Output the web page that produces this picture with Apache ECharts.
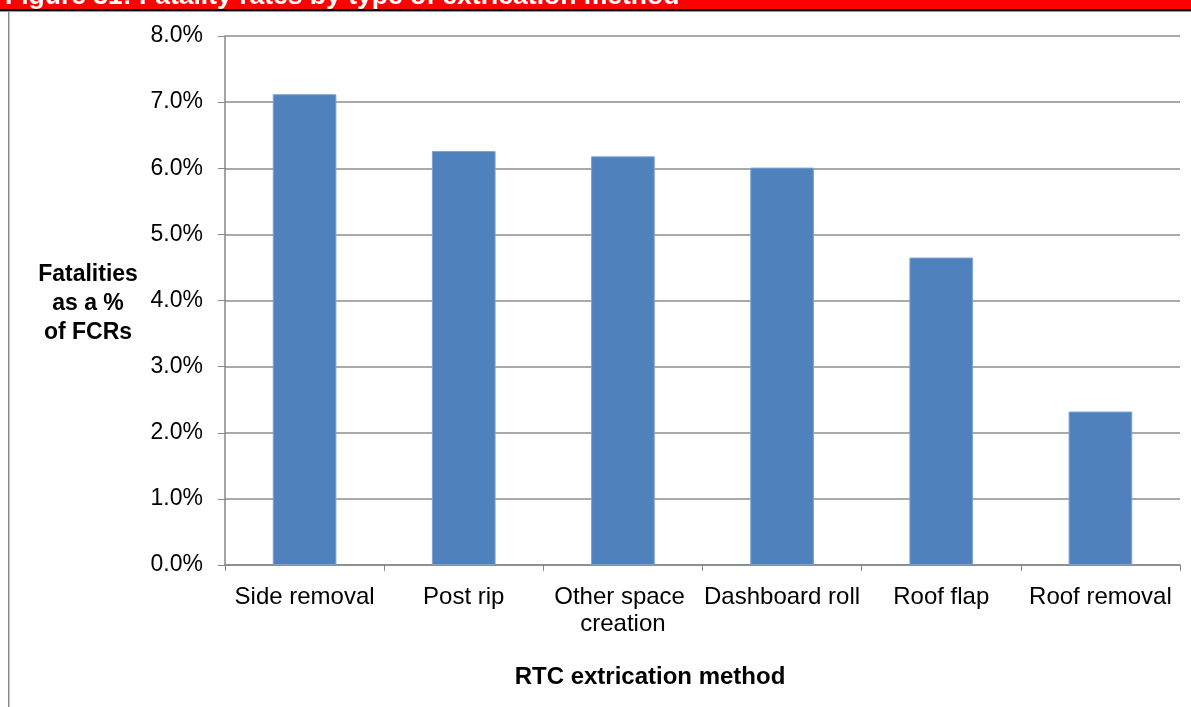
<!DOCTYPE html>
<html>
<head>
<meta charset="utf-8">
<script src="https://cdn.jsdelivr.net/npm/echarts@6/dist/echarts.min.js"></script>
<style>
html,body{margin:0;padding:0;background:#fff;}
#chart{width:1191px;height:707px;}
</style>
</head>
<body>
<div id="chart"></div>
<script>
const titleText = 'Figure 31: Fatality rates by type of extrication method';
const categories = ['Side removal', 'Post rip', 'Other space creation', 'Dashboard roll', 'Roof flap', 'Roof removal'];
const fatalityRates = [7.12, 6.26, 6.18, 6.01, 4.65, 2.32];
const yAxisTitle = 'Fatalities\nas a %\nof FCRs';
const xAxisTitle = 'RTC extrication method';

const FONT = '"Liberation Sans", Arial, sans-serif';
const chart = echarts.init(document.getElementById('chart'));
chart.setOption({
  animation: false,
  backgroundColor: '#ffffff',
  grid: { left: 225, right: 11, top: 36, bottom: 142 },
  xAxis: {
    type: 'category',
    data: categories,
    axisLine: { lineStyle: { color: '#868686', width: 1.5 } },
    axisTick: { show: true, length: 6, lineStyle: { color: '#868686', width: 1 } },
    axisLabel: {
      color: '#000', fontFamily: FONT, fontSize: 24, margin: 19,
      width: 168, overflow: 'break', lineHeight: 27, interval: 0
    }
  },
  yAxis: {
    type: 'value', min: 0, max: 8, interval: 1,
    axisLine: { show: true, lineStyle: { color: '#868686', width: 1.5 } },
    axisTick: { show: true, length: 7, lineStyle: { color: '#868686', width: 1 } },
    splitLine: { lineStyle: { color: '#8c8c8c', width: 1.5 } },
    axisLabel: {
      color: '#000', fontFamily: FONT, fontSize: 23, margin: 22,
      formatter: v => v.toFixed(1) + '%'
    }
  },
  series: [{
    type: 'bar',
    data: fatalityRates,
    barCategoryGap: '60%',
    itemStyle: { color: '#4f81bd', borderColor: '#7fa3d0', borderWidth: 1 }
  }],
  graphic: [
    { type: 'rect', shape: { x: 0, y: 0, width: 1191, height: 9 }, style: { fill: '#ff0000' }, z: 10 },
    { type: 'text', x: 5, y: -3.5, z: 11,
      style: { text: titleText, fill: '#ffffff', font: 'bold 26.5px ' + FONT, verticalAlign: 'middle' } },
    { type: 'rect', shape: { x: 0, y: 9, width: 1191, height: 2 }, style: { fill: '#000000' }, z: 12 },
    { type: 'rect', shape: { x: 0, y: 11, width: 1191, height: 1 }, style: { fill: '#9a9a9a' }, z: 12 },
    { type: 'rect', shape: { x: 8, y: 12, width: 1.5, height: 695 }, style: { fill: '#8c8c8c' }, z: 12 },
    { type: 'text', x: 88, y: 304, z: 11,
      style: { text: yAxisTitle, fill: '#000', font: 'bold 23px ' + FONT, align: 'center', verticalAlign: 'middle', lineHeight: 29 } },
    { type: 'text', x: 650, y: 677, z: 11,
      style: { text: xAxisTitle, fill: '#000', font: 'bold 24px ' + FONT, align: 'center', verticalAlign: 'middle' } }
  ]
});
</script>
</body>
</html>
